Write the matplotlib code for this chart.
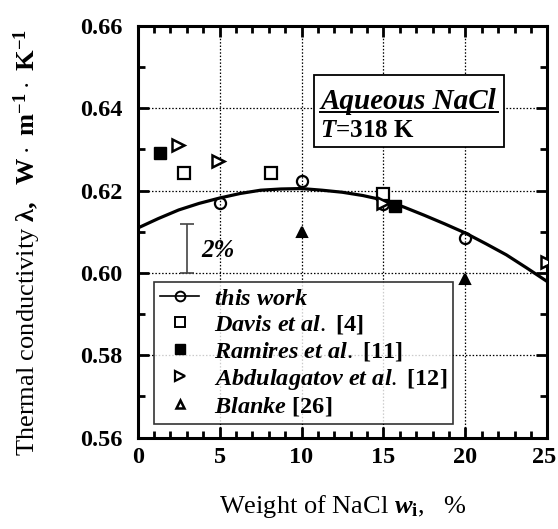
import numpy as np
import matplotlib
matplotlib.use("Agg")
from matplotlib import pyplot as plt
from matplotlib.lines import Line2D
from matplotlib.transforms import ScaledTranslation

plt.rcParams['font.family'] = ['Liberation Serif', 'DejaVu Serif']
plt.rcParams['mathtext.fontset'] = 'custom'
plt.rcParams['mathtext.rm'] = 'Liberation Serif'
plt.rcParams['mathtext.it'] = 'Liberation Serif:italic:bold'
plt.rcParams['mathtext.bf'] = 'Liberation Serif:bold'

# this work
work_w = [5, 10, 15, 20]
work_lam = [0.6170, 0.6223, 0.6168, 0.6086]
# Davis et al. [4]
davis_w = [2.83, 8.12, 15.0]
davis_lam = [0.6242, 0.6242, 0.6193]
# Ramires et al. [11]
ramires_w = [1.36, 15.7]
ramires_lam = [0.6291, 0.6163]
# Abdulagatov et al. [12]
abdul_w = [2.48, 4.92, 15.0, 25.0]
abdul_lam = [0.6311, 0.6273, 0.6170, 0.6027]
# Blanke [26]
blanke_w = [10, 20]
blanke_lam = [0.6099, 0.5985]
# fitted curve
fit_w = [0, 1.25, 2.5, 3.75, 5, 6.25, 7.5, 8.75, 10, 11.25, 12.5, 13.75,
         15, 16.25, 17.5, 18.75, 20, 21.25, 22.5, 23.75, 25]
fit_lam = [0.6109, 0.6132, 0.6153, 0.6169, 0.6182, 0.6193, 0.6201, 0.6204, 0.6205, 0.6201,
           0.6196, 0.6188, 0.6177, 0.6160, 0.6140, 0.6119, 0.6097, 0.6071, 0.6044, 0.6012, 0.5979]

fig = plt.figure(figsize=(5.58, 5.29), dpi=100)
ax = fig.add_axes([0.2468, 0.1728, 0.7340, 0.7781])

ax.set_xlim(0, 25)
ax.set_ylim(0.56, 0.66)
ax.set_xticks([0, 5, 10, 15, 20, 25])
ax.set_xticks(np.arange(0, 25.1, 1), minor=True)
ax.set_yticks([0.56, 0.58, 0.60, 0.62, 0.64, 0.66])
ax.set_yticks(np.arange(0.56, 0.661, 0.01), minor=True)
ax.set_yticklabels(['0.56', '0.58', '0.60', '0.62', '0.64', '0.66'])
ax.tick_params(which='both', direction='in', top=True, right=True, width=2)
ax.tick_params(which='major', length=8, labelsize=17.5, pad=11)
ax.tick_params(axis='x', which='major', pad=7)
ax.tick_params(which='minor', length=5)
for lab in ax.get_xticklabels() + ax.get_yticklabels():
    lab.set_fontweight('bold')
# keep the last x label inside the figure
last = ax.get_xticklabels()[-1]
last.set_transform(last.get_transform() + ScaledTranslation(-3 / 100, 0, fig.dpi_scale_trans))
for s in ax.spines.values():
    s.set_linewidth(2.2)

ax.grid(True, which='major', linestyle=(0, (1.2, 1.5)), color='black', linewidth=0.9)

ax.plot(fit_w, fit_lam, color='black', lw=2.3, zorder=3)
ax.plot(work_w, work_lam, 'o', mfc='none', mec='black', ms=8, mew=1.6, zorder=4)
ax.plot(davis_w, davis_lam, 's', mfc='white', mec='black', ms=8, mew=1.6, zorder=4)
ax.plot(ramires_w, ramires_lam, 's', mfc='black', mec='black', ms=8, zorder=4)
ax.plot(abdul_w, abdul_lam, '>', mfc='white', mec='black', ms=8, mew=1.8, zorder=4)
ax.plot(blanke_w, blanke_lam, '^', mfc='black', mec='black', ms=7, mew=1.5, zorder=4)

# 2% scale bar
ax.errorbar([3.03], [0.606], yerr=[0.006], color='#444444', capsize=5, lw=1.2, capthick=1.2)
ax.text(3.9, 0.6055, '2%', fontsize=18, style='italic', fontweight='bold',
        va='center', ha='left')

# condition box
ax.add_patch(plt.Rectangle((10.76, 0.6305), 11.6, 0.0176, fill=True, fc='white',
                           ec='black', lw=1.3, zorder=5))
ax.plot([11.1, 22.0], [0.6390, 0.6390], color='black', lw=1.4, zorder=6)
ax.text(16.55, 0.6416, 'Aqueous NaCl', fontsize=21, style='italic', fontweight='bold',
        ha='center', va='center', zorder=6)
ax.text(11.1, 0.6347, r'$T$=318 K', fontsize=18, fontweight='bold',
        ha='left', va='center', zorder=6)

handles = [
    Line2D([], [], color='black', lw=1.2, marker='o', mfc='none', mec='black', ms=7, mew=1.4),
    Line2D([], [], ls='none', marker='s', mfc='white', mec='black', ms=7, mew=1.4),
    Line2D([], [], ls='none', marker='s', mfc='black', mec='black', ms=7),
    Line2D([], [], ls='none', marker='>', mfc='white', mec='black', ms=7, mew=1.6),
    Line2D([], [], ls='none', marker='^', mfc='white', mec='black', ms=6, mew=1.8),
]
labels = [r'$this\ work$', r'$Davis\ et\ al.$ [4]', r'$Ramires\ et\ al.$ [11]',
          r'$Abdulagatov\ et\ al.$ [12]', r'$Blanke$ [26]']
leg = ax.legend(handles, labels, loc='lower left', bbox_to_anchor=(0.04, 0.032),
                prop={'size': 17.5, 'weight': 'bold'}, frameon=True, fancybox=False,
                handlelength=1.6, handletextpad=0.6, labelspacing=0.15,
                borderpad=0.25, borderaxespad=0)
leg.get_frame().set_edgecolor('black')
leg.get_frame().set_linewidth(1.2)
leg.set_zorder(6)

ax.set_xlabel(r'Weight of NaCl $w_{\mathbf{i}}$,   %', fontsize=19, labelpad=18)
ax.set_ylabel(r'Thermal conductivity $\mathbf{λ,\ \ W\cdot\ m^{-1}\cdot\ K^{-1}}$',
              fontsize=19)
ax.yaxis.set_label_coords(-0.232, 0.474)

fig.savefig('out.png', dpi=100)
